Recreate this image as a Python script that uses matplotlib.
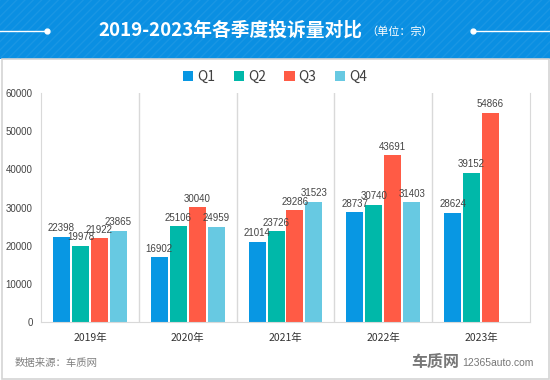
import numpy as np
import matplotlib.pyplot as plt
from matplotlib.patches import Rectangle

plt.rcParams['font.family'] = ['Noto Sans CJK SC', 'DejaVu Sans']
NUMFONT = ['Liberation Sans Narrow', 'Liberation Sans', 'DejaVu Sans']

years = ['2019年', '2020年', '2021年', '2022年', '2023年']
quarters = ['Q1', 'Q2', 'Q3', 'Q4']
q1 = [22398, 16902, 21014, 28737, 28624]
q2 = [19978, 25106, 23726, 30740, 39152]
q3 = [21922, 30040, 29286, 43691, 54866]
q4 = [23865, 24959, 31523, 31403, np.nan]  # no Q4 for 2023
colors = ['#0897e3', '#00b8a9', '#ff5b45', '#67c9e2']
series = [q1, q2, q3, q4]

fig = plt.figure(figsize=(5.5, 3.8), dpi=100)
W, H = 550, 380

# header band
hdr = Rectangle((0, 1 - 59 / H), 1, 59 / H, transform=fig.transFigure,
                facecolor='#0a8fe2', edgecolor='#1996e4', hatch='////',
                linewidth=0, zorder=0)
fig.patches.append(hdr)
# frame below header
frame = Rectangle((1.5 / W, 1.5 / H), 1 - 3 / W, 1 - 60 / H, transform=fig.transFigure,
                  facecolor='none', edgecolor='#d4d4d4', linewidth=1.2, zorder=0)
fig.patches.append(frame)

ty = 1 - 30.5 / H
fig.add_artist(plt.Line2D([0, 47 / W], [ty, ty], color='white', lw=1, transform=fig.transFigure))
fig.add_artist(plt.Line2D([473 / W, 1], [ty, ty], color='white', lw=1, transform=fig.transFigure))
fig.add_artist(plt.Line2D([47 / W, 473 / W], [ty, ty], color='white', lw=0, marker='o',
                          markersize=3.5, transform=fig.transFigure))
fig.text(362 / W, ty, '2019-2023年各季度投诉量对比', color='white', fontsize=13.5,
         fontweight='bold', ha='right', va='center')
fig.text(366 / W, ty - 0.003, '（单位：宗）', color='white', fontsize=8, ha='left', va='center')

ax = fig.add_axes([41 / W, 58 / H, 489 / W, 229 / H])
x = np.arange(len(years))
step = 0.194
width = 0.174
for i, (vals, c, q) in enumerate(zip(series, colors, quarters)):
    pos = x + (i - 1.5) * step
    ax.bar(pos, vals, width, color=c, label=q, zorder=2)
    for p, v in zip(pos, vals):
        if not np.isnan(v):
            ax.text(p, v + 900, str(v), ha='center', va='bottom', fontsize=7,
                    color='#444444', family=NUMFONT)

ax.set_xlim(-0.5, len(years) - 0.5)
ax.set_ylim(0, 60000)
ax.set_yticks(range(0, 60001, 10000))
ax.set_yticklabels([str(v) for v in range(0, 60001, 10000)], fontsize=7,
                   color='#444444', family=NUMFONT)
ax.set_xticks(x)
ax.set_xticklabels(years, fontsize=7.5, color='#333333')
ax.tick_params(length=0, pad=6)
ax.tick_params(axis='x', pad=8)
for b in np.arange(0.5, len(years) - 0.5, 1):
    ax.axvline(b, color='#d9d9d9', lw=1, zorder=1)
for s in ['left', 'right', 'bottom']:
    ax.spines[s].set_color('#d9d9d9')
ax.spines['top'].set_visible(False)

fig.legend(loc='center', bbox_to_anchor=(0.5, 1 - 77 / H), ncol=4, frameon=False,
           fontsize=10, handlelength=0.75, handleheight=0.75, handletextpad=0.3,
           columnspacing=1.3, labelcolor='#404040')

fig.text(15 / W, 1 - 363 / H, '数据来源：车质网', fontsize=7.5, color='#808080', va='center')
fig.text(459 / W, 1 - 362 / H, '车质网', fontsize=11.5, fontweight='bold', color='#777777',
         ha='right', va='center')
fig.text(462 / W, 1 - 363 / H, '12365auto.com', fontsize=7.5, color='#777777',
         va='center', family=['Liberation Sans', 'DejaVu Sans'])

fig.savefig('out.png', dpi=100)
